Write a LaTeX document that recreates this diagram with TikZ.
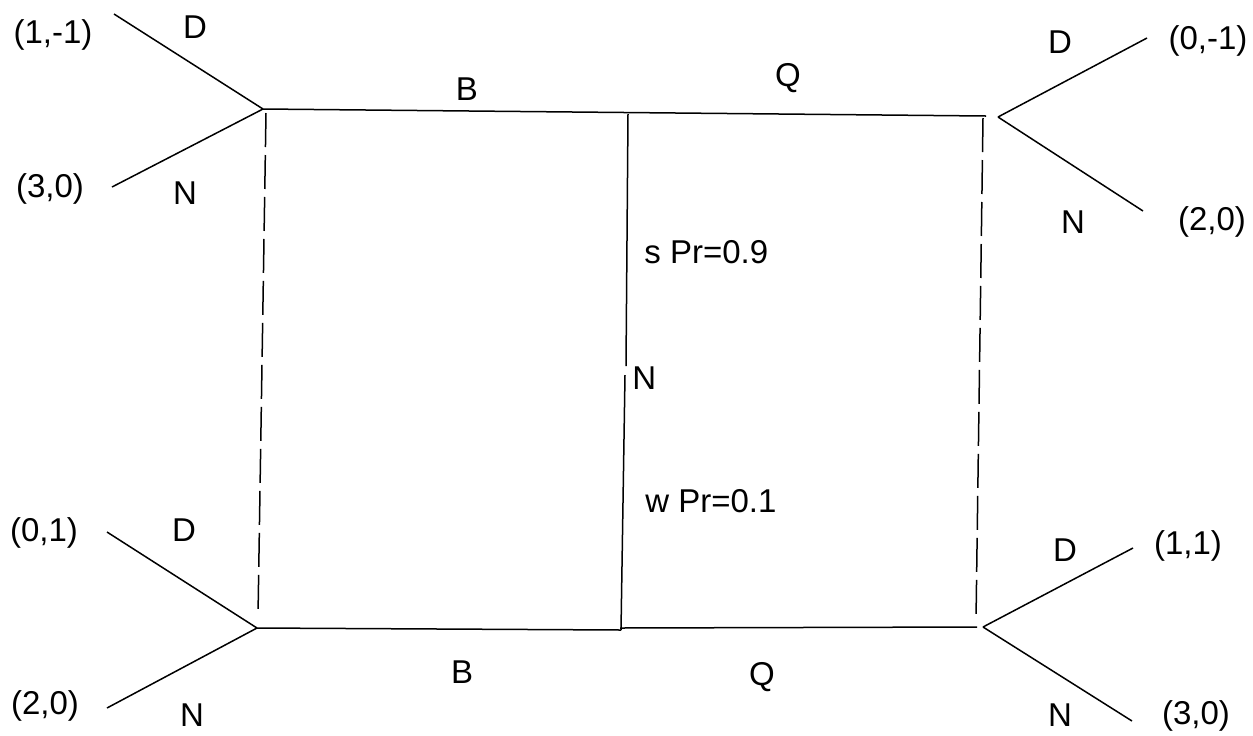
\documentclass[tikz,border=0pt]{standalone}
\usepackage{fontspec}
\setmainfont{Liberation Sans}
\begin{document}
\begin{tikzpicture}[x=0.5pt,y=-0.5pt,
  edge/.style={line width=0.75pt,black},
  info/.style={line width=0.75pt,black,dash pattern=on 17pt off 4pt},
  lbl/.style={inner sep=0pt,font=\fontsize{16.5}{19}\selectfont}]
\useasboundingbox[fill=white] (0,0) rectangle (1253,735);
% vertices
\coordinate (TL) at (263,109);
\coordinate (TM) at (628,114);
\coordinate (TRl) at (986,116);
\coordinate (TR) at (998,117);
\coordinate (BL) at (257,628);
\coordinate (BMl) at (621,630);
\coordinate (BMr) at (620,628);
\coordinate (BRl) at (977,627);
\coordinate (BR) at (983,627);
\coordinate (Na) at (626,366);
\coordinate (Nb) at (625,375);
% ends
\coordinate (e1) at (114,14);
\coordinate (e2) at (112,187);
\coordinate (e3) at (1147,38);
\coordinate (e4) at (1143,211);
\coordinate (e5) at (107,532);
\coordinate (e6) at (107,708);
\coordinate (e7) at (1133,548);
\coordinate (e8) at (1132,721);
% info set ends
\coordinate (dl1) at (266,113);
\coordinate (dl2) at (258,616);
\coordinate (dr1) at (983,118);
\coordinate (dr2) at (976,620);
% horizontal and vertical edges
\draw[edge] (TL) -- (TRl);
\draw[edge] (BL) -- (BMl);
\draw[edge] (BMr) -- (BRl);
\draw[edge] (TM) -- (Na);
\draw[edge] (Nb) -- (BMl);
% branches
\draw[edge] (TL) -- (e1);
\draw[edge] (TL) -- (e2);
\draw[edge] (TR) -- (e3);
\draw[edge] (TR) -- (e4);
\draw[edge] (BL) -- (e5);
\draw[edge] (BL) -- (e6);
\draw[edge] (BR) -- (e7);
\draw[edge] (BR) -- (e8);
% information sets
\draw[info] (dl1) -- (dl2);
\draw[info] (dr1) -- (dr2);
% labels
\node[lbl] (p1) at (53,35) {(1,-1)};
\node[lbl] (d1) at (195,27) {D};
\node[lbl] (p2) at (50,189) {(3,0)};
\node[lbl] (n1) at (185,193) {N};
\node[lbl] (p3) at (1208,41) {(0,-1)};
\node[lbl] (d2) at (1060,42) {D};
\node[lbl] (p4) at (1212,222) {(2,0)};
\node[lbl] (n2) at (1073,222) {N};
\node[lbl] (p5) at (44,533) {(0,1)};
\node[lbl] (d3) at (184,530) {D};
\node[lbl] (p6) at (45,706) {(2,0)};
\node[lbl] (n3) at (192,715) {N};
\node[lbl] (p7) at (1188,546) {(1,1)};
\node[lbl] (d4) at (1065,550) {D};
\node[lbl] (p8) at (1196,716) {(3,0)};
\node[lbl] (n4) at (1060,715) {N};
\node[lbl] (b1) at (467,89) {B};
\node[lbl] (q1) at (788,78) {Q};
\node[lbl] (b2) at (462,672) {B};
\node[lbl] (q2) at (762,677) {Q};
\node[lbl,anchor=west] (nat) at (632,378) {N};
\node[lbl,anchor=west] (s) at (644,252) {s Pr=0.9};
\node[lbl,anchor=west] (w) at (645,501) {w Pr=0.1};
\end{tikzpicture}
\end{document}
